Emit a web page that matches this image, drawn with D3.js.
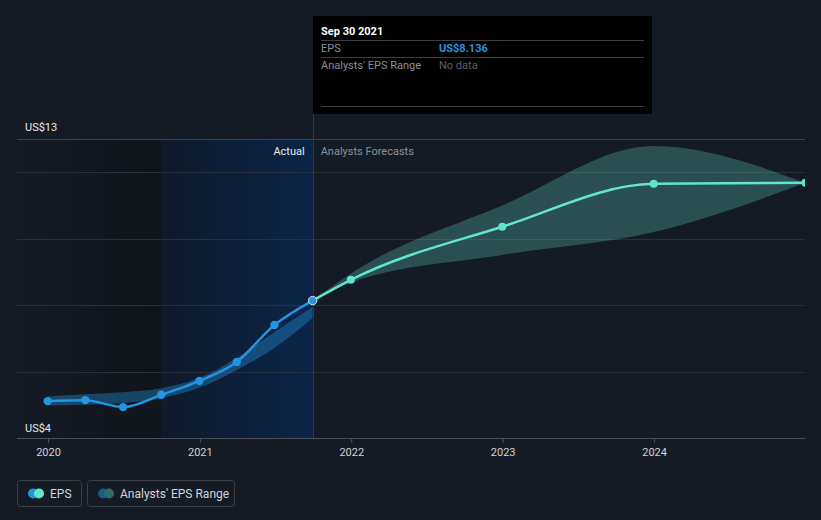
<!DOCTYPE html>
<html><head><meta charset="utf-8">
<script src="https://cdn.jsdelivr.net/npm/d3@7"></script>
<style>body{margin:0;background:#151b25;}svg{display:block;font-family:Roboto,"Open Sans",sans-serif;}</style>
</head><body>
<svg id="c" width="821" height="520"></svg>
<script>
const actualDates = ["2019-12-31","2020-03-31","2020-06-30","2020-09-30","2020-12-31","2021-03-31","2021-06-30","2021-09-30"];
const actualEps = [5.11, 5.14, 4.93, 5.30, 5.72, 6.29, 7.40, 8.136];
const actualLow = [4.98, 5.00, 5.05, 5.20, 5.51, 6.05, 6.71, 7.61];
const actualHigh = [5.26, 5.32, 5.38, 5.50, 5.81, 6.41, 7.19, 7.94];
const fcDates = ["2021-09-30","2021-12-31","2022-12-31","2023-12-31","2024-12-31"];
const fcEps = [8.136, 8.76, 10.36, 11.65, 11.68];
const fcLow = [8.136, 8.68, 9.51, 10.20, 11.68];
const fcHigh = [8.136, 8.95, 11.0, 12.79, 11.68];
const yTicks = [6, 8, 10, 12, 13];
const yLabels = ["US$4", "US$13"];
const xTickYears = [2020, 2021, 2022, 2023, 2024];

const P = d3.timeParse("%Y-%m-%d");
const svg = d3.select("#c");
const x = d3.scaleTime().domain([P("2020-01-01"), P("2024-12-31")]).range([48, 805.5]);
const y = d3.scaleLinear().domain([4, 13]).range([438, 139]);
const left = 17, right = 805;

const defs = svg.append("defs");
const g1 = defs.append("linearGradient").attr("id","gDark");
g1.append("stop").attr("offset","0").attr("stop-color","#151b25");
g1.append("stop").attr("offset","1").attr("stop-color","#10141b");
const g2 = defs.append("linearGradient").attr("id","gBlue");
g2.append("stop").attr("offset","0").attr("stop-color","#0f1a2a");
g2.append("stop").attr("offset","1").attr("stop-color","#0b2548");
defs.append("clipPath").attr("id","clip").append("rect").attr("x", left).attr("y", 100).attr("width", right - left).attr("height", 360);

const xSplit1 = x(P("2020-09-30")), xNow = x(P("2021-09-30"));
svg.append("rect").attr("x", left).attr("y", y(13)).attr("width", xSplit1 - left).attr("height", y(4) - y(13)).attr("fill","url(#gDark)");
svg.append("rect").attr("x", xSplit1).attr("y", y(13)).attr("width", xNow - xSplit1).attr("height", y(4) - y(13)).attr("fill","url(#gBlue)");

// gridlines
svg.append("g").selectAll("line").data(yTicks).join("line")
  .attr("x1", left).attr("x2", right).attr("y1", d => Math.round(y(d)) + 0.5).attr("y2", d => Math.round(y(d)) + 0.5)
  .attr("stroke", d => d === 13 ? "#3b404a" : "#2a303a").attr("stroke-width", 1);

// vertical now line
svg.append("line").attr("x1", Math.round(xNow) + 0.5).attr("x2", Math.round(xNow) + 0.5).attr("y1", 16).attr("y2", y(4))
  .attr("stroke", "#1d3b63").attr("stroke-width", 1);

// x axis
const xa = svg.append("g").attr("transform", `translate(0,${y(4)})`)
  .call(d3.axisBottom(x).tickValues(xTickYears.map(v => new Date(v, 0, 1))).tickFormat(d3.timeFormat("%Y")).tickSize(5).tickSizeOuter(0));
xa.select(".domain").attr("d", `M${left},0.5H${right}`).attr("stroke", "#4a4f58");
xa.selectAll(".tick line").attr("stroke", "#4a4f58");
xa.selectAll(".tick text").attr("fill", "#d0d3d8").attr("font-size", 11).attr("dy", "0.9em").attr("font-family","Roboto,sans-serif");

// y labels
svg.append("text").attr("x", 25).attr("y", y(4) - 6).text(yLabels[0]).attr("fill","#e8eaed").attr("font-size",11);
svg.append("text").attr("x", 25).attr("y", y(13) - 8).text(yLabels[1]).attr("fill","#e8eaed").attr("font-size",11);

// Actual / Analysts Forecasts labels
svg.append("text").attr("x", xNow - 8).attr("y", 155).attr("text-anchor","end").text("Actual").attr("fill","#e8eaed").attr("font-size",11);
svg.append("text").attr("x", xNow + 8).attr("y", 155).text("Analysts Forecasts").attr("fill","#8a8f97").attr("font-size",11);

const act = actualDates.map((d,i) => ({d: P(d), v: actualEps[i], lo: actualLow[i], hi: actualHigh[i]}));
const fc = fcDates.map((d,i) => ({d: P(d), v: fcEps[i], lo: fcLow[i], hi: fcHigh[i]}));

const plot = svg.append("g").attr("clip-path", "url(#clip)");
// bands
const area = d3.area().x(d => x(d.d)).y0(d => y(d.lo)).y1(d => y(d.hi)).curve(d3.curveMonotoneX);
plot.append("path").datum(act).attr("d", area).attr("fill", "#2394df").attr("fill-opacity", 0.38);
plot.append("path").datum(fc).attr("d", area).attr("fill", "#5fd9c4").attr("fill-opacity", 0.28);

// lines
const line = d3.line().x(d => x(d.d)).y(d => y(d.v)).curve(d3.curveMonotoneX);
plot.append("path").datum(fc).attr("d", line).attr("fill","none").attr("stroke","#61e6cc").attr("stroke-width",2.5);
plot.append("path").datum(act).attr("d", line).attr("fill","none").attr("stroke","#2394df").attr("stroke-width",2.5);

plot.append("g").selectAll("circle").data(fc.slice(1)).join("circle")
  .attr("cx", d => x(d.d)).attr("cy", d => y(d.v)).attr("r", 4).attr("fill","#61e6cc");
plot.append("g").selectAll("circle").data(act).join("circle")
  .attr("cx", d => x(d.d)).attr("cy", d => y(d.v)).attr("r", 4.2).attr("fill","#2394df")
  .attr("stroke", (d,i) => i === act.length - 1 ? "#dfe6ee" : "none").attr("stroke-width", 1);

// tooltip
const tt = svg.append("g");
tt.append("rect").attr("x", Math.round(xNow)).attr("y", 16).attr("width", 339).attr("height", 98).attr("fill", "#000");
tt.append("text").attr("x", 321).attr("y", 35).text("Sep 30 2021").attr("fill","#fff").attr("font-size",11).attr("font-weight","bold");
[40, 57, 106].forEach(yy => tt.append("line").attr("x1", 321).attr("x2", 644).attr("y1", yy + 0.5).attr("y2", yy + 0.5).attr("stroke","#3a3d42"));
tt.append("text").attr("x", 321).attr("y", 52).text("EPS").attr("fill","#8a8f97").attr("font-size",11);
tt.append("text").attr("x", 439).attr("y", 52).text("US$8.136").attr("fill","#2394df").attr("font-size",11).attr("font-weight","bold");
tt.append("text").attr("x", 321).attr("y", 69).text("Analysts' EPS Range").attr("fill","#8a8f97").attr("font-size",11);
tt.append("text").attr("x", 439).attr("y", 69).text("No data").attr("fill","#5d6168").attr("font-size",11);

// legend
const lg = svg.append("g");
const items = [{x:17, w:64, c1:"#2394df", c2:"#61e6cc", t:"EPS", tx:50}, {x:87, w:147, c1:"#1e5a86", c2:"#2f6b66", t:"Analysts' EPS Range", tx:120}];
items.forEach(it => {
  lg.append("rect").attr("x", it.x + 0.5).attr("y", 480.5).attr("width", it.w).attr("height", 26).attr("rx", 3).attr("fill","none").attr("stroke","#3a3f48");
  lg.append("circle").attr("cx", it.x + 16).attr("cy", 493.5).attr("r", 5).attr("fill", it.c1);
  lg.append("circle").attr("cx", it.x + 22).attr("cy", 493.5).attr("r", 5).attr("fill", it.c2);
  lg.append("text").attr("x", it.tx).attr("y", 497.5).text(it.t).attr("fill","#d0d3d8").attr("font-size",12);
});
</script>
</body></html>
